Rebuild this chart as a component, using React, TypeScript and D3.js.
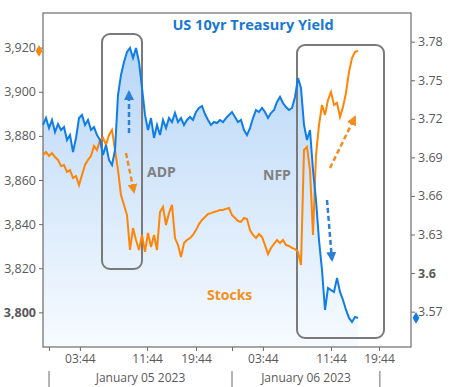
import { useEffect, useRef } from "react";
import * as d3 from "d3";

// US 10yr yield (right axis), one value per sample slot
const yieldValues = [
  3.7152, 3.7206, 3.7128, 3.7191, 3.7097, 3.716, 3.7113, 3.7136, 3.7035, 3.7074,
  3.6942, 3.7051, 3.7206, 3.723, 3.7152, 3.7191, 3.7113, 3.7136, 3.7074, 3.7035,
  3.6918, 3.6996, 3.688, 3.6841, 3.6957, 3.7385, 3.7541, 3.7642, 3.772, 3.7751,
  3.7673, 3.7751, 3.7642, 3.744, 3.723, 3.7113, 3.7206, 3.7051, 3.7152, 3.7074,
  3.7191, 3.7128, 3.7206, 3.7175, 3.7245, 3.7175, 3.7206, 3.7152, 3.7191, 3.7214,
  3.7191, 3.7253, 3.7284, 3.73, 3.7237, 3.7191, 3.7152, 3.7175, 3.7167, 3.7191,
  3.7175, 3.7206, 3.723, 3.7253, 3.7214, 3.7175, 3.7191, 3.7113, 3.7074, 3.7128,
  3.7206, 3.7268, 3.7253, 3.7284, 3.7253, 3.7206, 3.7245, 3.7268, 3.7331, 3.737,
  3.7323, 3.7292, 3.7268, 3.7284, 3.737, 3.7517, 3.744, 3.7152, 3.7035, 3.7113,
  3.6802, 3.6568, 3.6257, 3.6024, 3.5713, 3.5884, 3.5868, 3.5853, 3.5962, 3.5853,
  3.5791, 3.5713, 3.5651, 3.562, 3.5658, 3.5651,
];

// S&P 500 futures (left axis), same sample slots
const stockValues = [
  3871.3, 3872.7, 3870.9, 3872.2, 3870.4, 3869.1, 3866.3, 3866.8, 3863.6, 3864.5,
  3860.9, 3861.8, 3857.7, 3862.3, 3866.8, 3869.1, 3870.9, 3875.4, 3873.6, 3878.1,
  3879.1, 3875.9, 3880.4, 3882.7, 3873.6, 3864.5, 3853.2, 3848.7, 3844.1, 3828.3,
  3838.2, 3832.8, 3828.3, 3835.1, 3827.4, 3836.0, 3829.6, 3835.1, 3828.3, 3845.5,
  3847.8, 3839.6, 3845.0, 3848.7, 3833.7, 3830.5, 3825.1, 3831.4, 3832.8, 3833.7,
  3835.1, 3837.3, 3840.0, 3841.9, 3843.2, 3844.6, 3845.0, 3845.5, 3845.9, 3846.4,
  3846.4, 3846.9, 3847.3, 3844.1, 3842.8, 3841.4, 3841.0, 3842.8, 3842.3, 3837.3,
  3835.1, 3833.7, 3835.5, 3834.2, 3830.5, 3826.4, 3829.2, 3831.0, 3832.8, 3831.4,
  3832.8, 3830.5, 3830.1, 3829.2, 3828.7, 3827.4, 3821.5, 3873.6, 3875.0, 3864.5,
  3835.1, 3871.3, 3884.9, 3894.0, 3889.5, 3896.3, 3899.9, 3894.0, 3894.9, 3888.6,
  3893.1, 3899.5, 3909.0, 3915.3, 3918.1, 3918.5,
];

const leftTicks = [3800, 3820, 3840, 3860, 3880, 3900, 3920];
const rightTicks = [3.57, 3.6, 3.63, 3.66, 3.69, 3.72, 3.75, 3.78];
const timeTicks = [2, 12.3, 34.7, 51, 63, 73.3, 96, 112];
const timeLabels = ["", "03:44", "11:44", "19:44", "", "03:44", "11:44", "19:44"];
const dayEdges = [2, 63, 112.3];
const dayLabels = ["January 05 2023", "January 06 2023"];

export default function App() {
  const svgRef = useRef<SVGSVGElement>(null);

  useEffect(() => {
    if (!svgRef.current) return;
    const svg = d3.select(svgRef.current);
    svg.selectAll("*").remove();

    const W = 450, H = 387;
    const margin = { top: 13, right: 39, bottom: 40, left: 43 };
    const x0 = margin.left, x1 = W - margin.right;
    const y0 = margin.top, y1 = H - margin.bottom;
    const font = "'Open Sans', 'DejaVu Sans', sans-serif";

    const x = d3.scaleLinear().domain([0, (x1 - x0) / 3]).range([x0, x1]);
    const yL = d3.scaleLinear().domain([3784.3, 3935.7]).range([y1, y0]);
    const yR = d3.scaleLinear().domain([3.5425, 3.8023]).range([y1, y0]);

    const defs = svg.append("defs");
    const grad = defs.append("linearGradient")
      .attr("id", "yieldFill")
      .attr("gradientUnits", "userSpaceOnUse")
      .attr("x1", 0).attr("y1", y0).attr("x2", 0).attr("y2", y1);
    grad.append("stop").attr("offset", 0).attr("stop-color", "#b1d2f6");
    grad.append("stop").attr("offset", 1).attr("stop-color", "#f7fbff");

    const clip = defs.append("clipPath").attr("id", "plotClip");
    clip.append("rect").attr("x", x0).attr("y", y0).attr("width", x1 - x0).attr("height", y1 - y0);

    const arrowColors = { blue: "#2b7fd6", orange: "#f28c1e" };
    Object.entries(arrowColors).forEach(([k, c]) => {
      defs.append("marker")
        .attr("id", `head-${k}`)
        .attr("viewBox", "0 0 10 10")
        .attr("refX", 8).attr("refY", 5)
        .attr("markerWidth", 4).attr("markerHeight", 4)
        .attr("markerUnits", "strokeWidth")
        .attr("orient", "auto")
        .append("path").attr("d", "M0,0 L10,5 L0,10 Z").attr("fill", c);
    });

    // area under the yield line
    const area = d3.area<number>()
      .x((_, i) => x(i))
      .y0(y1)
      .y1(d => yR(d));
    svg.append("path")
      .datum(yieldValues)
      .attr("clip-path", "url(#plotClip)")
      .attr("fill", "url(#yieldFill)")
      .attr("d", area);

    // frame
    svg.append("rect")
      .attr("x", x0).attr("y", y0).attr("width", x1 - x0).attr("height", y1 - y0)
      .attr("fill", "none").attr("stroke", "#6b6b6b").attr("stroke-width", 1.2);

    // event boxes
    const boxes = [
      { x: 102, y: 34, w: 40, h: 235 },
      { x: 297, y: 45, w: 87, h: 293 },
    ];
    svg.selectAll(".evbox").data(boxes).enter().append("rect")
      .attr("class", "evbox")
      .attr("x", d => d.x).attr("y", d => d.y)
      .attr("width", d => d.w).attr("height", d => d.h)
      .attr("rx", 8).attr("ry", 8)
      .attr("fill", "none").attr("stroke", "#7a7a7a").attr("stroke-width", 2);

    // lines
    const stockLine = d3.line<number>().x((_, i) => x(i)).y(d => yL(d));
    const yieldLine = d3.line<number>().x((_, i) => x(i)).y(d => yR(d));

    svg.append("path")
      .datum(stockValues)
      .attr("fill", "none")
      .attr("stroke", "#ff8505")
      .attr("stroke-width", 2)
      .attr("stroke-linejoin", "miter")
      .attr("d", stockLine);

    svg.append("path")
      .datum(yieldValues)
      .attr("fill", "none")
      .attr("stroke", "#0f7de8")
      .attr("stroke-width", 2)
      .attr("stroke-linejoin", "miter")
      .attr("d", yieldLine);

    // dashed arrows
    const arrows = [
      { x1: 129, y1: 133, x2: 129, y2: 92, c: "blue" },
      { x1: 126, y1: 153, x2: 134, y2: 192, c: "orange" },
      { x1: 330, y1: 168, x2: 355, y2: 117, c: "orange" },
      { x1: 327, y1: 200, x2: 332, y2: 260, c: "blue" },
    ];
    svg.selectAll(".arrow").data(arrows).enter().append("line")
      .attr("class", "arrow")
      .attr("x1", d => d.x1).attr("y1", d => d.y1)
      .attr("x2", d => d.x2).attr("y2", d => d.y2)
      .attr("stroke", d => arrowColors[d.c as "blue" | "orange"])
      .attr("stroke-width", 2.5)
      .attr("stroke-dasharray", "5,3")
      .attr("marker-end", d => `url(#head-${d.c})`);

    // left axis
    const gL = svg.append("g")
      .attr("transform", `translate(${x0},0)`)
      .call(d3.axisLeft(yL).tickValues(leftTicks).tickFormat(d3.format(",") as any).tickSize(4).tickPadding(3));
    gL.select(".domain").remove();
    gL.selectAll("line").attr("stroke", "#6b6b6b");
    gL.selectAll("text")
      .attr("font-family", font).attr("font-size", 12.5).attr("fill", "#595959")
      .attr("font-weight", (d: any) => (d === 3800 ? 700 : 400));

    // right axis
    const gR = svg.append("g")
      .attr("transform", `translate(${x1},0)`)
      .call(d3.axisRight(yR).tickValues(rightTicks).tickFormat((d: any) => String(d)).tickSize(4).tickPadding(3));
    gR.select(".domain").remove();
    gR.selectAll("line").attr("stroke", "#6b6b6b");
    gR.selectAll("text")
      .attr("font-family", font).attr("font-size", 12.5).attr("fill", "#595959")
      .attr("font-weight", (d: any) => (d === 3.6 ? 700 : 400));

    // bottom axis
    const gB = svg.append("g")
      .attr("transform", `translate(0,${y1})`)
      .call(d3.axisBottom(x).tickValues(timeTicks).tickFormat((_, i) => timeLabels[i]).tickSize(4).tickPadding(3));
    gB.select(".domain").remove();
    gB.selectAll("line").attr("stroke", "#6b6b6b");
    gB.selectAll("text")
      .attr("font-family", font).attr("font-size", 12).attr("fill", "#595959");

    // day band
    svg.selectAll(".daysep").data(dayEdges).enter().append("line")
      .attr("class", "daysep")
      .attr("x1", d => x(d)).attr("x2", d => x(d))
      .attr("y1", 371).attr("y2", H)
      .attr("stroke", "#6b6b6b");
    svg.selectAll(".daylab").data(dayLabels).enter().append("text")
      .attr("class", "daylab")
      .attr("x", (_, i) => (x(dayEdges[i]) + x(dayEdges[i + 1])) / 2)
      .attr("y", 382)
      .attr("text-anchor", "middle")
      .attr("font-family", font).attr("font-size", 12).attr("fill", "#595959")
      .text(d => d);

    // last-value diamonds
    const diamond = d3.symbol().type(d3.symbolDiamond).size(40);
    svg.append("path")
      .attr("d", diamond)
      .attr("transform", `translate(${x0 - 4},${yL(stockValues[stockValues.length - 1])})`)
      .attr("fill", "#ff8505");
    svg.append("path")
      .attr("d", diamond)
      .attr("transform", `translate(${x1 + 5},${yR(yieldValues[yieldValues.length - 1])})`)
      .attr("fill", "#0f7de8");

    // labels
    svg.append("text")
      .attr("x", 253).attr("y", 30)
      .attr("text-anchor", "middle")
      .attr("font-family", font).attr("font-size", 14.5).attr("font-weight", 700)
      .attr("fill", "#1877d2")
      .text("US 10yr Treasury Yield");
    svg.append("text")
      .attr("x", 147).attr("y", 177)
      .attr("font-family", font).attr("font-size", 14).attr("font-weight", 700)
      .attr("fill", "#808080")
      .text("ADP");
    svg.append("text")
      .attr("x", 263).attr("y", 180)
      .attr("font-family", font).attr("font-size", 14).attr("font-weight", 700)
      .attr("fill", "#808080")
      .text("NFP");
    svg.append("text")
      .attr("x", 207).attr("y", 300)
      .attr("font-family", font).attr("font-size", 14).attr("font-weight", 700)
      .attr("fill", "#f39019")
      .text("Stocks");
  }, []);

  return (
    <svg ref={svgRef} width={450} height={387}
      style={{ position: "absolute", left: 0, top: 0, background: "#fff" }} />
  );
}
